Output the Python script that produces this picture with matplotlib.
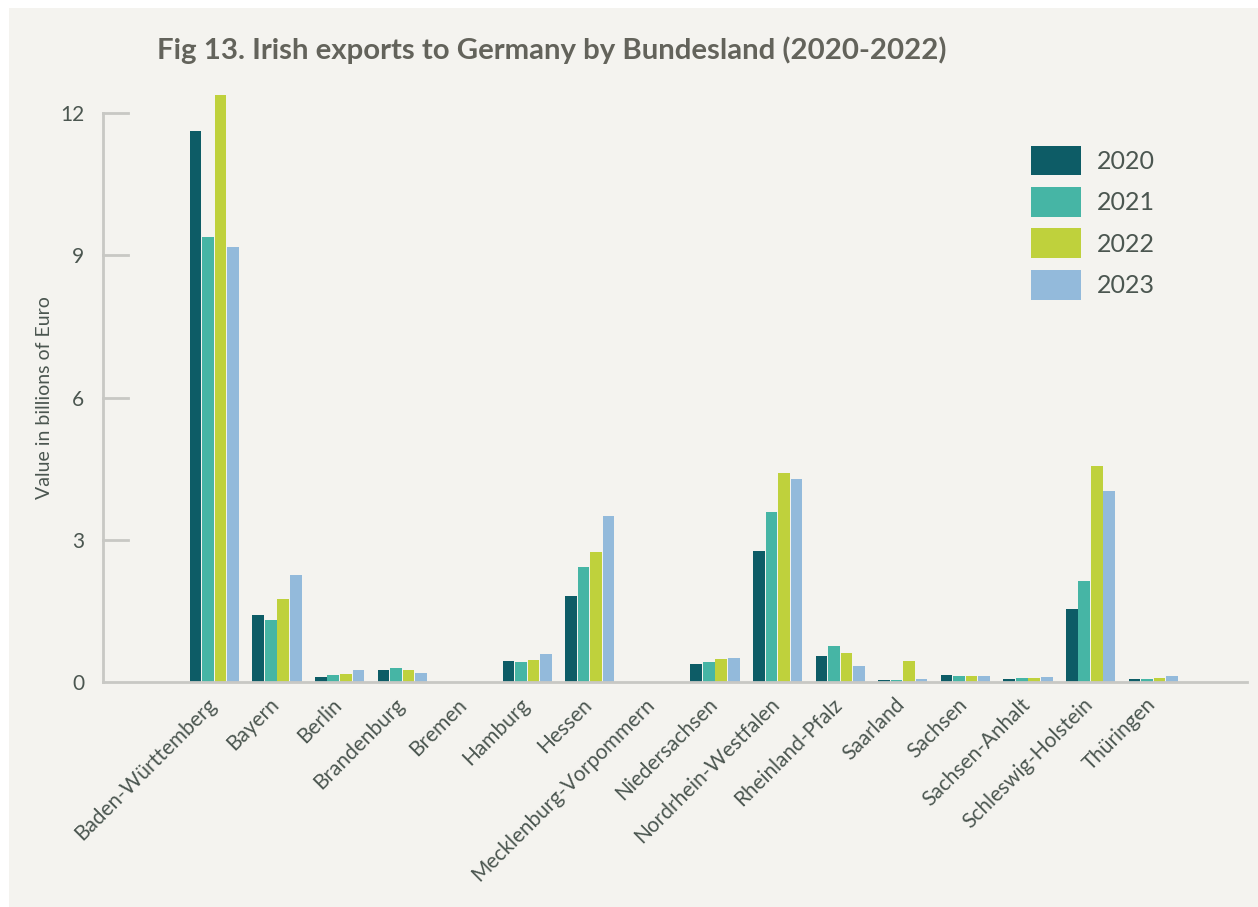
import matplotlib.pyplot as plt
import matplotlib.patches as mpatches
import matplotlib.transforms as mtransforms
import numpy as np

plt.rcParams['font.family'] = ['Lato', 'DejaVu Sans']

# Irish exports by Bundesland, billions of euro
states = ['Baden-Württemberg', 'Bayern', 'Berlin', 'Brandenburg', 'Bremen',
          'Hamburg', 'Hessen', 'Mecklenburg-Vorpommern', 'Niedersachsen',
          'Nordrhein-Westfalen', 'Rheinland-Pfalz', 'Saarland', 'Sachsen',
          'Sachsen-Anhalt', 'Schleswig-Holstein', 'Thüringen']
years = ['2020', '2021', '2022', '2023']
v2020 = [11.62, 1.41, 0.11, 0.25, 0.0, 0.44, 1.81, 0.0, 0.38, 2.76, 0.55, 0.04, 0.15, 0.06, 1.54, 0.06]
v2021 = [9.39, 1.31, 0.15, 0.29, 0.0, 0.42, 2.43, 0.0, 0.42, 3.59, 0.76, 0.04, 0.13, 0.08, 2.13, 0.06]
v2022 = [12.38, 1.75, 0.17, 0.25, 0.0, 0.46, 2.74, 0.0, 0.49, 4.41, 0.61, 0.44, 0.13, 0.08, 4.56, 0.08]
v2023 = [9.18, 2.26, 0.25, 0.19, 0.0, 0.59, 3.50, 0.0, 0.51, 4.28, 0.34, 0.06, 0.13, 0.11, 4.03, 0.13]
colors = ['#0d5c66', '#46b5a5', '#bfd13c', '#93badb']

bg = '#f4f3ef'
text_col = '#4b5650'
axis_col = '#c8c8c4'

fig = plt.figure(figsize=(12.58, 9.07), dpi=100, facecolor='white')
fig.patches.append(mpatches.Rectangle((9/1258, 0), 1, 1 - 8/907,
                                      transform=fig.transFigure,
                                      facecolor=bg, edgecolor='none', zorder=-10))

ax = fig.add_axes([103/1258, 1 - 682/907, (1247 - 103)/1258, 569/907])
ax.set_facecolor('none')

x = np.arange(len(states))
step = 0.2
for i, (vals, yr) in enumerate(zip([v2020, v2021, v2022, v2023], years)):
    ax.bar(x + (i - 1.5)*step, vals, 0.186, color=colors[i], edgecolor='none',
           label=yr, clip_on=False, zorder=3)

ax.set_xlim(-1.78, 16.5)
ax.set_ylim(0, 12)
ax.set_yticks([0, 3, 6, 9, 12])

for s in ['top', 'right']:
    ax.spines[s].set_visible(False)
for s in ['left', 'bottom']:
    ax.spines[s].set_color(axis_col)
    ax.spines[s].set_linewidth(2)
    ax.spines[s].set_zorder(4)

# short tick stubs running into the plot
for yv in [3, 6, 9, 12]:
    ax.plot([0, 0.022], [yv, yv], transform=ax.get_yaxis_transform(),
            color=axis_col, lw=2, clip_on=False, zorder=2)

ax.tick_params(axis='y', length=0, pad=13.5, labelsize=15, labelcolor=text_col)
ax.tick_params(axis='x', length=0, pad=9)
ax.set_xticks(x)
ax.set_xticklabels(states, rotation=45, ha='right', rotation_mode='anchor',
                   fontsize=15, color=text_col)
shift = mtransforms.ScaledTranslation(-8/100, 0, fig.dpi_scale_trans)
for lbl in ax.get_xticklabels():
    lbl.set_transform(lbl.get_transform() + shift)

ax.set_ylabel('Value in billions of Euro', fontsize=14, color=text_col)
ax.yaxis.set_label_coords(-0.0437, 0.5)

fig.text(157/1258, 1 - 50/907, 'Fig 13. Irish exports to Germany by Bundesland (2020-2022)',
         fontsize=21.2, fontweight='bold', color='#63635b', va='center', ha='left')

leg = ax.legend(loc='upper left', bbox_to_anchor=(1008/1258, 1 - 123/907),
                bbox_transform=fig.transFigure, frameon=False, fontsize=18,
                labelcolor=text_col, handlelength=2.0, handleheight=1.45,
                handletextpad=0.64, labelspacing=0.47)
for h in leg.legend_handles:
    h.set_edgecolor('none')

fig.savefig('out.png', dpi=100, facecolor=fig.get_facecolor())
